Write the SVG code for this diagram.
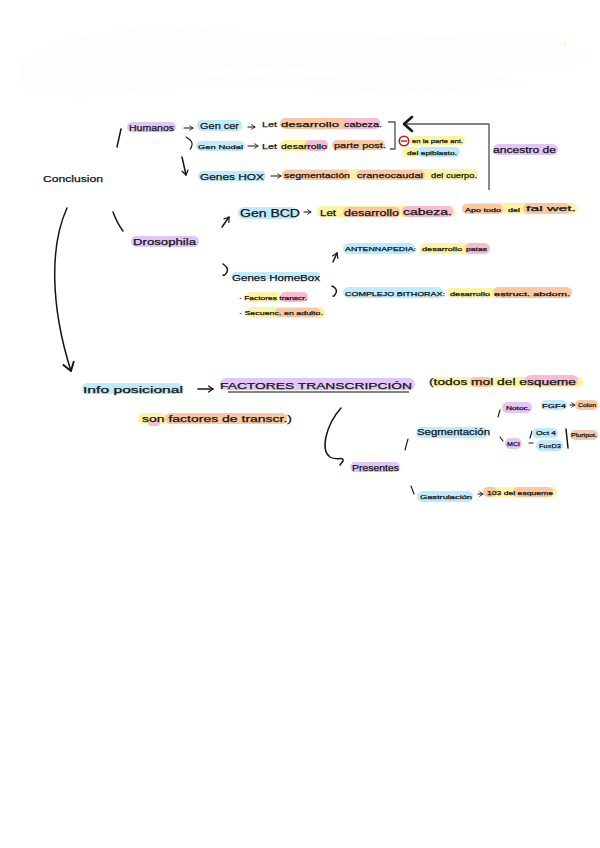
<svg xmlns="http://www.w3.org/2000/svg" width="600" height="848" viewBox="0 0 600 848">
<style>
text{font-family:"Liberation Sans",Arial,sans-serif;fill:#151515;stroke:#151515;stroke-width:.25;font-size:8px}
.s{font-size:6px}.m{font-size:9px}.l{font-size:10.5px}
.pu{fill:#e3c6f8}.bl{fill:#bfeafb}.or{fill:#f9c8a2}.ye{fill:#fdf3a2}.pk{fill:#f7bcd2}
.st{fill:none;stroke:#151515;stroke-width:1.5;stroke-linecap:round;stroke-linejoin:round}
.th{stroke-width:1.1}
.gr{fill:none;stroke:#5a5a5a;stroke-width:1.4;stroke-linejoin:round}
</style>
<defs>
<marker id="hd" viewBox="0 0 10 10" refX="8" refY="5" markerWidth="5" markerHeight="5" orient="auto"><path d="M2 1L8 5L2 9" fill="none" stroke="#151515" stroke-width="1.6" stroke-linecap="round" stroke-linejoin="round"/></marker>
<marker id="hb" viewBox="0 0 10 10" refX="8" refY="5" markerWidth="9" markerHeight="9" orient="auto"><path d="M2 1L8 5L2 9" fill="none" stroke="#151515" stroke-width="1.4" stroke-linecap="round" stroke-linejoin="round"/></marker>
</defs>
<g id="smear"><path fill="#fdfdfd" fill-rule="evenodd" d="M23 60L71 37L144 26L176 27L260 33L337 34L429 37L563 39L567 46L590 56L577 66L469 66L531 85L423 93L211 85L77 98L17 87ZM165 77L246 66L327 70L496 81L230 75Z"/><circle cx="565" cy="44" r="1.2" fill="#fdf3a2"/></g>
<g id="connectors">
<path class="st" d="M121 129L117 147"/>
<path class="st" d="M113 212Q117 223 123 231"/>
<path class="st" d="M67 208C50 245 50 305 71 371" marker-end="url(#hb)"/>
<path class="st th" d="M184 128H193" marker-end="url(#hd)"/>
<path class="st th" d="M248 127H255" marker-end="url(#hd)"/>
<path class="st th" d="M186 137Q193 141 192 145T190 149"/>
<path class="st th" d="M248 146H258" marker-end="url(#hd)"/>
<path class="st" d="M182 157L186 175" marker-end="url(#hd)"/>
<path class="st th" d="M271 176H281" marker-end="url(#hd)"/>
<path class="gr" d="M388 122H395V149H390"/>
<path class="gr" d="M489 190V124H405"/>
<path d="M412 117L404 124L412 131" fill="none" stroke="#151515" stroke-width="2.6" stroke-linecap="round" stroke-linejoin="round"/>
<path class="st" d="M222 227L229 217" marker-end="url(#hd)"/>
<path class="st th" d="M304 212H311" marker-end="url(#hd)"/>
<path class="st" d="M223 264Q229 268 227 272T223 275"/>
<path class="st" d="M333 262L337 253" marker-end="url(#hd)"/>
<path class="st" d="M332 286Q338 289 336 293T333 296"/>
<path class="st" d="M198 389H213" marker-end="url(#hd)"/>
<path d="M228 392H409" stroke="#5a5a5a" stroke-width="1.4" fill="none"/>
<path class="st" d="M341 408C326 425 320 450 330 457C336 461 344 456 343 461L340 465"/>
<path class="st th" d="M408 439L405 450"/>
<path class="st th" d="M411 486L414 494"/>
<path class="st th" d="M500 410L498 417"/>
<path class="st th" d="M500 437L503 441"/>
<path class="st th" d="M530 438L532 431"/>
<path class="st th" d="M529 443H533"/>
<path class="st" d="M566 429L568 448"/>
<path class="st th" d="M570 405H575" marker-end="url(#hd)"/>
<path class="st th" d="M478 494H483" marker-end="url(#hd)"/>
</g>
<g id="conclusion"><text class="m" x="43" y="182" textLength="60" lengthAdjust="spacingAndGlyphs">Conclusion</text></g>
<g id="humanos"><rect class="pu" x="127" y="122" width="49" height="10" rx="5"/><text class="m" x="129" y="131" textLength="45" lengthAdjust="spacingAndGlyphs">Humanos</text></g>
<g id="gen-cer"><rect class="bl" x="197" y="120" width="45" height="11" rx="5"/><text class="m" x="200" y="129" textLength="39" lengthAdjust="spacingAndGlyphs">Gen cer</text></g>
<g id="let-cabeza"><rect class="or" x="280" y="118" width="100" height="11" rx="5"/><rect class="pk" x="343" y="118" width="37" height="11" rx="5"/><text x="262" y="127" textLength="15" lengthAdjust="spacingAndGlyphs">Let</text><text x="281" y="127" textLength="58" lengthAdjust="spacingAndGlyphs">desarrollo</text><text x="344" y="127" textLength="38" lengthAdjust="spacingAndGlyphs">cabeza.</text></g>
<g id="gen-nodal"><rect class="bl" x="196" y="141" width="49" height="10" rx="5"/><text class="s" x="198" y="149" textLength="45" lengthAdjust="spacingAndGlyphs">Gen Nodal</text></g>
<g id="let-post"><rect class="ye" x="280" y="140" width="48" height="11" rx="5"/><rect class="pk" x="305" y="140" width="23" height="11" rx="5"/><rect class="or" x="332" y="140" width="53" height="10" rx="5"/><text x="262" y="149" textLength="15" lengthAdjust="spacingAndGlyphs">Let</text><text x="281" y="149" textLength="46" lengthAdjust="spacingAndGlyphs">desarrollo</text><text x="334" y="148" textLength="52" lengthAdjust="spacingAndGlyphs">parte post.</text></g>
<g id="genes-hox"><rect class="bl" x="198" y="171" width="68" height="10" rx="5"/><text class="m" x="200" y="180" textLength="64" lengthAdjust="spacingAndGlyphs">Genes HOX</text></g>
<g id="segmentacion-hox"><rect class="ye" x="282" y="169" width="196" height="11" rx="5"/><rect class="or" x="282" y="170" width="68" height="10" rx="5"/><rect class="or" x="356" y="170" width="69" height="10" rx="5"/><text x="284" y="178" textLength="66" lengthAdjust="spacingAndGlyphs">segmentación</text><text x="357" y="178" textLength="66" lengthAdjust="spacingAndGlyphs">craneocaudal</text><text x="431" y="178" textLength="46" lengthAdjust="spacingAndGlyphs">del cuerpo.</text></g>
<g id="epiblasto"><circle cx="404" cy="141" r="4.7" fill="#fff" stroke="#c01818" stroke-width="1.6"/><path d="M401 141H407" stroke="#c01818" stroke-width="1.4"/><rect class="ye" x="410" y="136" width="55" height="9" rx="4.5"/><rect class="ye" x="402" y="147" width="17" height="10" rx="5"/><rect class="bl" x="417" y="147" width="43" height="10" rx="5"/><text class="s" x="412" y="143" textLength="51" lengthAdjust="spacingAndGlyphs">en la parte ant.</text><text class="s" x="407" y="155" textLength="50" lengthAdjust="spacingAndGlyphs">del epiblasto.</text></g>
<g id="ancestro"><rect class="pu" x="493" y="144" width="65" height="11" rx="5.5"/><text class="m" x="493" y="153" textLength="63" lengthAdjust="spacingAndGlyphs">ancestro de</text></g>
<g id="drosophila"><rect class="pu" x="131" y="236" width="68" height="11" rx="5"/><text class="m" x="133" y="245" textLength="63" lengthAdjust="spacingAndGlyphs">Drosophila</text></g>
<g id="gen-bcd"><rect class="bl" x="238" y="207" width="60" height="12" rx="6"/><text class="l" x="240" y="217" textLength="60" lengthAdjust="spacingAndGlyphs">Gen BCD</text></g>
<g id="let-bcd"><rect class="ye" x="317" y="206" width="138" height="11" rx="5"/><rect class="or" x="343" y="207" width="57" height="10" rx="5"/><rect class="pk" x="402" y="206" width="51" height="11" rx="5"/><text class="m" x="320" y="216" textLength="16" lengthAdjust="spacingAndGlyphs">Let</text><text class="m" x="344" y="216" textLength="55" lengthAdjust="spacingAndGlyphs">desarrollo</text><text class="m" x="403" y="215" textLength="49" lengthAdjust="spacingAndGlyphs">cabeza.</text></g>
<g id="apoyo"><rect class="ye" x="462" y="203" width="115" height="11" rx="5"/><rect class="or" x="462" y="204" width="41" height="10" rx="5"/><rect class="or" x="523" y="203" width="47" height="11" rx="5"/><text class="s" x="465" y="212" textLength="36" lengthAdjust="spacingAndGlyphs">Apo todo</text><text class="s" x="508" y="212" textLength="12" lengthAdjust="spacingAndGlyphs">del</text><text x="526" y="211" textLength="50" lengthAdjust="spacingAndGlyphs">fal  wet.</text></g>
<g id="genes-homebox"><rect class="bl" x="232" y="272" width="88" height="7" rx="3.5"/><text class="m" x="232" y="281" textLength="88" lengthAdjust="spacingAndGlyphs">Genes HomeBox</text></g>
<g id="factores"><rect class="ye" x="245" y="292" width="36" height="10" rx="5"/><rect class="pk" x="280" y="292" width="28" height="10" rx="5"/><text class="s" x="239" y="300" textLength="68" lengthAdjust="spacingAndGlyphs">· Factores transcr.</text></g>
<g id="secuenc"><rect class="ye" x="247" y="307" width="78" height="11" rx="5"/><rect class="or" x="275" y="308" width="45" height="9" rx="4.5"/><text class="s" x="239" y="315" textLength="84" lengthAdjust="spacingAndGlyphs">· Secuenc. en adulto.</text></g>
<g id="antennapedia"><rect class="bl" x="343" y="243" width="72" height="11" rx="5.5"/><rect class="ye" x="420" y="243" width="70" height="11" rx="5.5"/><rect class="pk" x="465" y="243" width="25" height="11" rx="5.5"/><text class="s" x="345" y="251" textLength="71" lengthAdjust="spacingAndGlyphs">ANTENNAPEDIA:</text><text class="s" x="422" y="251" textLength="40" lengthAdjust="spacingAndGlyphs">desarrollo</text><text class="s" x="466" y="251" textLength="21" lengthAdjust="spacingAndGlyphs">patas</text></g>
<g id="bithorax"><rect class="bl" x="343" y="287" width="100" height="11" rx="5.5"/><rect class="ye" x="447" y="288" width="50" height="10" rx="5"/><rect class="or" x="493" y="287" width="79" height="11" rx="5.5"/><text class="s" x="345" y="296" textLength="100" lengthAdjust="spacingAndGlyphs">COMPLEJO BITHORAX:</text><text class="s" x="450" y="296" textLength="40" lengthAdjust="spacingAndGlyphs">desarrollo</text><text class="s" x="494" y="296" textLength="76" lengthAdjust="spacingAndGlyphs">estruct. abdom.</text></g>
<g id="info"><rect class="bl" x="82" y="383" width="101" height="11" rx="5.5"/><text class="m" x="83" y="393" textLength="100" lengthAdjust="spacingAndGlyphs">Info posicional</text></g>
<g id="factores-transcripcion"><rect class="pu" x="220" y="378" width="195" height="12" rx="6"/><text class="m" x="220" y="389" textLength="192" lengthAdjust="spacingAndGlyphs">FACTORES TRANSCRIPCIÓN</text></g>
<g id="todos"><rect class="ye" x="432" y="377" width="151" height="10" rx="5"/><rect class="or" x="470" y="377" width="22" height="10" rx="5"/><rect class="pk" x="525" y="375" width="53" height="11" rx="5.5"/><text class="m" x="429" y="385" textLength="147" lengthAdjust="spacingAndGlyphs">(todos mol del esqueme</text></g>
<g id="son-factores"><rect class="ye" x="138" y="413" width="30" height="11" rx="5.5"/><rect class="or" x="165" y="413" width="122" height="11" rx="5.5"/><rect class="pk" x="148" y="420" width="12" height="6" rx="3"/><text class="m" x="142" y="422" textLength="150" lengthAdjust="spacingAndGlyphs">son factores  de transcr.)</text></g>
<g id="presentes"><rect class="pu" x="350" y="462" width="50" height="10" rx="5"/><text class="m" x="352" y="471" textLength="47" lengthAdjust="spacingAndGlyphs">Presentes</text></g>
<g id="segmentacion"><rect class="bl" x="416" y="427" width="72" height="11" rx="5.5"/><text class="m" x="417" y="435" textLength="73" lengthAdjust="spacingAndGlyphs">Segmentación</text></g>
<g id="gastrulacion"><rect class="bl" x="417" y="491" width="56" height="11" rx="5.5"/><text class="s" x="420" y="499" textLength="52" lengthAdjust="spacingAndGlyphs">Gastrulación</text></g>
<g id="esqueme"><rect class="ye" x="483" y="487" width="74" height="10" rx="5"/><rect class="or" x="483" y="487" width="14" height="10" rx="5"/><rect class="or" x="513" y="487" width="40" height="10" rx="5"/><text class="s" x="487" y="495" textLength="66" lengthAdjust="spacingAndGlyphs">103 del  esqueme</text></g>
<g id="notoc"><rect class="pu" x="502" y="402" width="30" height="11" rx="5.5"/><text class="s" x="506" y="410" textLength="24" lengthAdjust="spacingAndGlyphs">Notoc.</text></g>
<g id="fgf4"><rect class="bl" x="541" y="400" width="26" height="10" rx="5"/><text class="s" x="542" y="408" textLength="24" lengthAdjust="spacingAndGlyphs">FGF4</text></g>
<g id="colon"><rect class="or" x="575" y="400" width="23" height="10" rx="5"/><text class="s" x="578" y="407" textLength="18" lengthAdjust="spacingAndGlyphs">Colon</text></g>
<g id="mci"><rect class="pu" x="505" y="438" width="17" height="11" rx="5.5"/><text class="s" x="507" y="446" textLength="13" lengthAdjust="spacingAndGlyphs">MCI</text></g>
<g id="oct4"><rect class="bl" x="532" y="428" width="26" height="10" rx="5"/><text class="s" x="536" y="435" textLength="20" lengthAdjust="spacingAndGlyphs">Oct 4</text></g>
<g id="foxd3"><rect class="bl" x="536" y="440" width="27" height="11" rx="5.5"/><text class="s" x="539" y="448" textLength="22" lengthAdjust="spacingAndGlyphs">FoxD3</text></g>
<g id="pluripot"><rect class="or" x="570" y="430" width="28" height="10" rx="5"/><text class="s" x="571" y="437" textLength="26" lengthAdjust="spacingAndGlyphs">Pluripot.</text></g>
</svg>
